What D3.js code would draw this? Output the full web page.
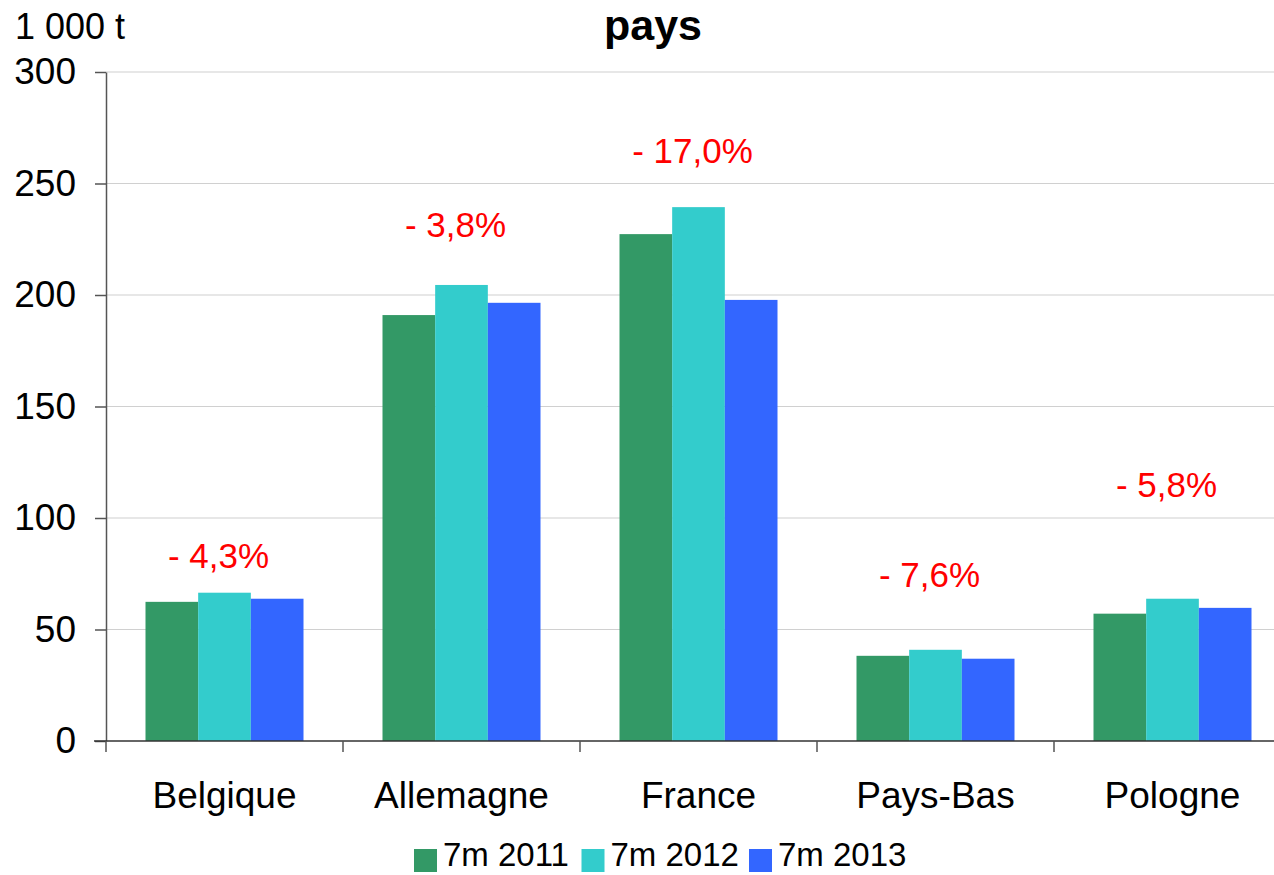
<!DOCTYPE html>
<html>
<head>
<meta charset="utf-8">
<script src="https://cdn.jsdelivr.net/npm/d3@7"></script>
<style>
  body { margin: 0; background: #fff; }
  svg { display: block; font-family: "Liberation Sans", Arial, sans-serif; }
</style>
</head>
<body>
<div id="chart"></div>
<script>
// chart data (1 000 t)
const countries = ["Belgique", "Allemagne", "France", "Pays-Bas", "Pologne"];
const seriesNames = ["7m 2011", "7m 2012", "7m 2013"];
const values2011 = [62.4, 191.0, 227.3, 38.2, 57.1];
const values2012 = [66.5, 204.5, 239.4, 40.9, 63.8];
const values2013 = [63.8, 196.5, 197.8, 36.9, 59.7];
const changeLabels = ["- 4,3%", "- 3,8%", "- 17,0%", "- 7,6%", "- 5,8%"];
// height (in data units) where each change label sits
const labelLevels = [77.7, 226, 259, 69, 109.5];
const yTicks = [0, 50, 100, 150, 200, 250, 300];
const colors = ["#339966", "#33CCCC", "#3366FF"];

const W = 1274, H = 875;
const margin = {top: 72, left: 106, bottom: 134};
const plotRight = 1291; // last band runs past the picture edge

const svg = d3.select("#chart").append("svg")
  .attr("width", W)
  .attr("height", H);

// scales
const x0 = d3.scaleBand()
  .domain(countries)
  .range([margin.left, plotRight])
  .paddingInner(1 / 3)
  .paddingOuter(1 / 6);

const x1 = d3.scaleBand()
  .domain(seriesNames)
  .range([0, x0.bandwidth()]);

const y = d3.scaleLinear()
  .domain([0, 300])
  .range([H - margin.bottom, margin.top]);

const step = x0.step();
const center = c => x0(c) + x0.bandwidth() / 2;

// gridlines
svg.append("g")
  .selectAll("line")
  .data(yTicks.filter(d => d > 0))
  .join("line")
  .attr("x1", margin.left)
  .attr("x2", W)
  .attr("y1", d => y(d))
  .attr("y2", d => y(d))
  .attr("stroke", "#d0d0d0")
  .attr("stroke-width", 1.2);

// bars
const table = countries.map((c, i) => ({
  country: c,
  vals: [values2011[i], values2012[i], values2013[i]]
}));

svg.append("g")
  .selectAll("g")
  .data(table)
  .join("g")
  .attr("transform", d => `translate(${x0(d.country)},0)`)
  .selectAll("rect")
  .data(d => d.vals.map((v, k) => ({key: seriesNames[k], v: v, k: k})))
  .join("rect")
  .attr("x", d => x1(d.key))
  .attr("width", x1.bandwidth())
  .attr("y", d => y(d.v))
  .attr("height", d => y(0) - y(d.v))
  .attr("fill", d => colors[d.k]);

// y axis
const yAxis = svg.append("g")
  .attr("transform", `translate(${margin.left},0)`)
  .call(d3.axisLeft(y).tickValues(yTicks).tickSize(11).tickPadding(19).tickSizeOuter(0));
yAxis.select(".domain").attr("stroke", "#555").attr("stroke-width", 1.5);
yAxis.selectAll(".tick line").attr("stroke", "#555").attr("stroke-width", 1.5);
yAxis.selectAll(".tick text")
  .attr("font-size", 37)
  .attr("fill", "#000")
  .attr("font-family", "Liberation Sans, Arial, sans-serif");

// x axis line and category separators
svg.append("line")
  .attr("x1", margin.left - 12)
  .attr("x2", W)
  .attr("y1", y(0))
  .attr("y2", y(0))
  .attr("stroke", "#333")
  .attr("stroke-width", 1.6);

const bounds = d3.range(countries.length + 1).map(i => margin.left + i * step);
svg.append("g")
  .selectAll("line")
  .data(bounds)
  .join("line")
  .attr("x1", d => d)
  .attr("x2", d => d)
  .attr("y1", y(0))
  .attr("y2", y(0) + 11)
  .attr("stroke", "#555")
  .attr("stroke-width", 1.5);

// category labels
svg.append("g")
  .selectAll("text")
  .data(countries)
  .join("text")
  .attr("x", d => center(d))
  .attr("y", 808)
  .attr("text-anchor", "middle")
  .attr("font-size", 37)
  .text(d => d);

// change labels in red
svg.append("g")
  .selectAll("text")
  .data(countries)
  .join("text")
  .attr("x", d => center(d) - 6)
  .attr("y", (d, i) => y(labelLevels[i]))
  .attr("text-anchor", "middle")
  .attr("font-size", 35)
  .attr("fill", "#FF0000")
  .text((d, i) => changeLabels[i]);

// title and unit
svg.append("text")
  .attr("x", 653)
  .attr("y", 40)
  .attr("text-anchor", "middle")
  .attr("font-size", 43)
  .attr("font-weight", "bold")
  .text("pays");

svg.append("text")
  .attr("x", 15)
  .attr("y", 39)
  .attr("font-size", 36)
  .text("1 000 t");

// legend
const legend = svg.append("g")
  .attr("transform", "translate(414,849)");
const item = legend.selectAll("g")
  .data(seriesNames)
  .join("g")
  .attr("transform", (d, i) => `translate(${i * 167.5},0)`);
item.append("rect")
  .attr("width", 23)
  .attr("height", 23)
  .attr("fill", (d, i) => colors[i]);
item.append("text")
  .attr("x", 29)
  .attr("y", 17)
  .attr("font-size", 33)
  .text(d => d);
</script>
</body>
</html>
